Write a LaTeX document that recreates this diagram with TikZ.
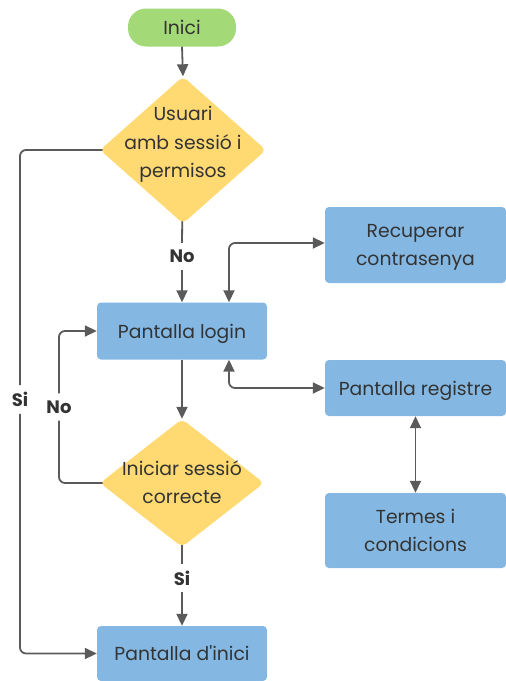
\documentclass[tikz,border=0pt]{standalone}
\usepackage{fontspec}
\setmainfont{Poppins}
\usetikzlibrary{arrows.meta,shapes.geometric,backgrounds}
\definecolor{startgreen}{HTML}{A3D977}
\definecolor{decisionyellow}{HTML}{FFDA72}
\definecolor{screenblue}{HTML}{84B8E2}
\definecolor{linegray}{HTML}{5A5A5A}
\definecolor{textdark}{HTML}{333333}
\begin{document}
\begin{tikzpicture}[x=1pt,y=-1pt,
  every node/.style={text=textdark, font=\fontsize{18.8}{28.5}\selectfont, align=center, inner sep=0pt, text depth=0pt},
  pill/.style={fill=startgreen, rounded corners=18pt, minimum width=108pt, minimum height=38pt},
  decision/.style={diamond, fill=decisionyellow, rounded corners=5pt},
  screen/.style={fill=screenblue, rounded corners=4pt},
  flowlabel/.style={font=\fontsize{18}{20}\selectfont\bfseries, inner sep=7pt},
  conn/.style={draw=linegray, line width=1.8pt, rounded corners=6pt},
  arr/.style={conn, -{Triangle[length=12pt,width=11pt]}},
  biarr/.style={conn, {Triangle[length=12pt,width=11pt]}-{Triangle[length=12pt,width=11pt]}}]
\useasboundingbox (0,0) rectangle (506,681);

% nodes of the flow
\node[pill] (start) at (182,27.5) {Inici};
\node[decision, minimum width=166pt, minimum height=147pt] (q1) at (183,150) {};
\node (q1text) at (183,142) {Usuari\\amb sessió i\\permisos};
\node[screen, minimum width=170pt, minimum height=57pt] (login) at (182,331) {Pantalla login};
\node[screen, minimum width=181pt, minimum height=76pt] (recover) at (415.5,245) {Recuperar\\contrasenya};
\node[screen, minimum width=181pt, minimum height=56pt] (register) at (415.5,388) {Pantalla registre};
\node[screen, minimum width=181pt, minimum height=75pt] (terms) at (415.5,530.5) {Termes i\\condicions};
\node[decision, minimum width=164pt, minimum height=128pt] (q2) at (182,483) {};
\node (q2text) at (182,482) {Iniciar sessió\\correcte};
\node[screen, minimum width=170pt, minimum height=55pt] (home) at (182,653.5) {Pantalla d\textquotesingle inici};

% branch labels
\node[flowlabel] (no1) at (182,256.5) {No};
\node[flowlabel] (si1) at (20,399.5) {Si};
\node[flowlabel] (no2) at (59,407) {No};
\node[flowlabel] (si2) at (182,578) {Si};

% connectors
\draw[arr] (start.south) -- (q1.north);
\draw[arr] (no1.south) -- (login.north);
\draw[arr] (si1.south) |- (home.west);
\draw[biarr] ([xshift=47pt]login.north) |- ([yshift=2pt]recover.west);
\draw[biarr] ([xshift=47pt]login.south) |- (register.west);
\draw[biarr] (register.south) -- (terms.north);
\draw[arr] (login.south) -- (q2.north);
\draw[arr] (no2.north) |- (login.west);
\draw[arr] (si2.south) -- (home.north);
% lines leaving the decisions start under their fill, so they meet the rounded tips
\begin{scope}[on background layer]
  \draw[conn] (q1.center) -- (no1.north);
  \draw[conn] (q1.center) -| (si1.north);
  \draw[conn] (q2.center) -| (no2.south);
  \draw[conn] (q2.center) -- (si2.north);
\end{scope}
\end{tikzpicture}
\end{document}
